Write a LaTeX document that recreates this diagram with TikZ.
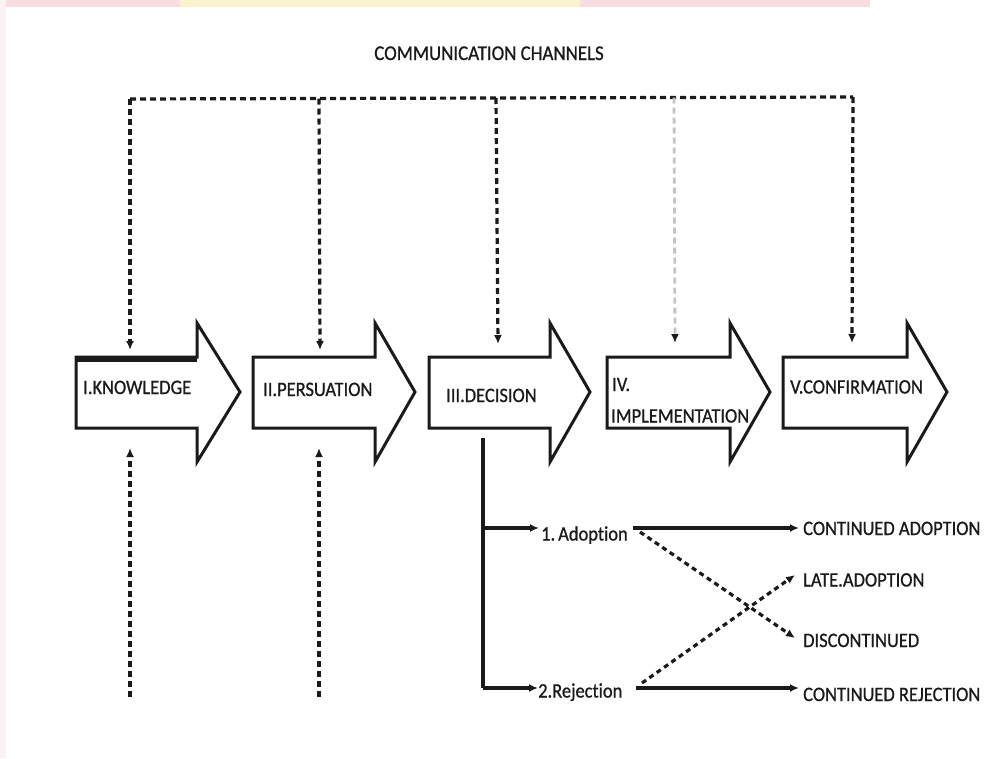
\documentclass[tikz,border=0pt]{standalone}
\usepackage{fontspec}
\setmainfont{Carlito}[Ligatures=NoCommon, FakeBold=0.8, FakeStretch=0.9]
\usetikzlibrary{arrows.meta}
\definecolor{ink}{HTML}{1A1A1A}
\definecolor{wmpink}{HTML}{F7DCE0}
\definecolor{wmyellow}{HTML}{FBF3CF}
\definecolor{faint}{HTML}{C4C4C4}
\tikzset{
  outline/.style={draw=ink, line width=3pt, line join=miter, fill=white},
  lbl/.style={inner sep=0pt, anchor=base west, text=ink, font=\fontsize{20.5}{22}\selectfont},
  chan/.style={draw=ink, line width=3.2pt, dash pattern=on 6pt off 4pt},
  chanarrow/.style={chan, -{Latex[length=9pt,width=8pt]}},
  branch/.style={draw=ink, line width=3.4pt},
  brancharrow/.style={branch, -{Latex[length=9pt,width=8pt]}},
  cross/.style={draw=ink, line width=3.2pt, dash pattern=on 5pt off 4pt, -{Latex[length=9pt,width=8pt]}}
}
\newcommand\blockarrow[4]{%
  \draw[outline] (#2,357) -- (#3,357) -- (#3,323) -- (#4,392) -- (#3,462) -- (#3,428) -- (#2,428) -- cycle;
}
\begin{document}
\begin{tikzpicture}[x=1pt,y=-1pt]
\useasboundingbox (0,0) rectangle (993,758);
\fill[white] (0,0) rectangle (993,758);
% faint watermark edges
\fill[wmpink] (0,0) rectangle (870,7);
\fill[wmyellow] (180,0) rectangle (580,7);
\fill[wmpink!40] (0,0) rectangle (6,758);

% title
\node[lbl, anchor=base, font=\fontsize{21}{23}\selectfont] (title) at (489,60) {COMMUNICATION CHANNELS};

% block arrows
\blockarrow{k}{76}{197}{240}
\draw[ink, line width=5pt] (76,359) -- (197,359);
\blockarrow{p}{253}{375}{415}
\blockarrow{d}{429}{550}{590}
\blockarrow{i}{607}{730}{770}
\blockarrow{c}{783}{907}{947}

\node[lbl] (know) at (83,394) {I.KNOWLEDGE};
\node[lbl] (pers) at (263,396) {II.PERSUATION};
\node[lbl] (deci) at (446,402) {III.DECISION};
\node[lbl] (impA) at (612,391) {IV.};
\node[lbl] (impB) at (611,422.5) {IMPLEMENTATION};
\node[lbl] (conf) at (790,393.5) {V.CONFIRMATION};

% communication channel coordinates
\coordinate (j1) at (130,99);
\coordinate (j2) at (319,98.5);
\coordinate (j3) at (496,98);
\coordinate (j4) at (674,97.5);
\coordinate (j5) at (853,97);
\coordinate (kin) at (130,350);
\coordinate (pin) at (320,350);
\coordinate (din) at (498,344);
\coordinate (iin) at (675,343);
\coordinate (cin) at (852,343);

\draw[chan] (j1) -- (j5);
\draw[chanarrow] (j1) -- (kin);
\draw[chanarrow] (j2) -- (pin);
\draw[chanarrow] (j3) -- (din);
\draw[draw=faint, line width=2.8pt, dash pattern=on 6pt off 4pt, -{Latex[length=9pt,width=8pt,color=ink]}] (j4) -- (iin);
\draw[chanarrow] (j5) -- (cin);

% upward channels
\coordinate (kb) at (130,697);
\coordinate (kup) at (130,448);
\coordinate (pb) at (319,697);
\coordinate (pup) at (319,448);
\draw[chanarrow] (kb) -- (kup);
\draw[chanarrow] (pb) -- (pup);

% decision branches
\node[lbl] (adopt) at (541,540.5) {1.\kern3pt Adoption};
\node[lbl] (reject) at (538,697.5) {2.Rejection};
\coordinate (stem) at (483,438);
\coordinate (sa) at (483,528);
\coordinate (sb) at (483,688);
\coordinate (atip) at (539,528);
\coordinate (rtip) at (538,688);
\draw[branch] (stem) -- (sb);
\draw[brancharrow] (sb) -- (rtip);
\draw[brancharrow] (sa) -- (atip);

% outcomes
\node[lbl] (contA) at (803,535) {CONTINUED ADOPTION};
\node[lbl] (late) at (803,586.5) {LATE.ADOPTION};
\node[lbl] (disc) at (803,647) {DISCONTINUED};
\node[lbl] (contR) at (803,701) {CONTINUED REJECTION};

\coordinate (aout) at (633,528);
\coordinate (rout) at (636,688);
\coordinate (aend) at (799,528);
\coordinate (rend) at (799,688);
\coordinate (adash) at (640,532);
\coordinate (rdash) at (642,683);
\coordinate (lateend) at (795,575);
\coordinate (discend) at (795,638);
\draw[brancharrow] (aout) -- (aend);
\draw[brancharrow] (rout) -- (rend);
\draw[cross] (adash) -- (discend);
\draw[cross] (rdash) -- (lateend);
\end{tikzpicture}
\end{document}
